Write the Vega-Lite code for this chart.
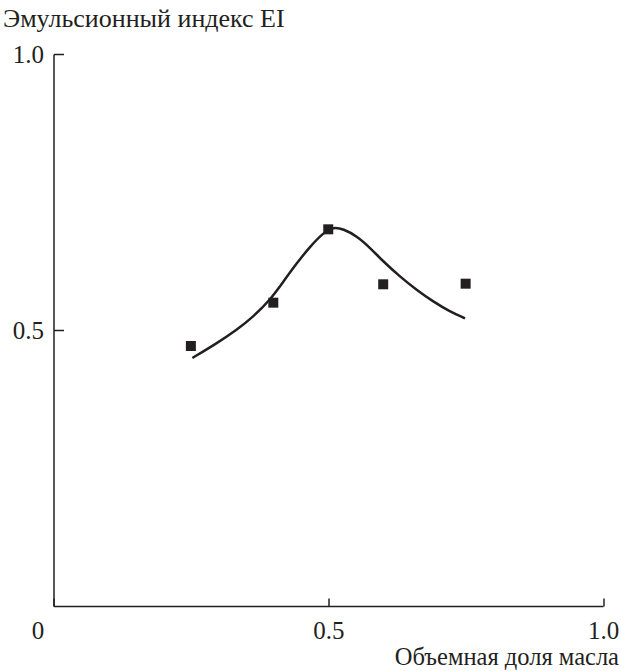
{
  "$schema": "https://vega.github.io/schema/vega-lite/v6.json",
  "width": 549.5,
  "height": 552,
  "autosize": "none",
  "padding": {"left": 53.5, "top": 54, "right": 18, "bottom": 65},
  "background": "white",
  "config": {
    "view": {"stroke": null},
    "axis": {
      "grid": false,
      "domainColor": "#231f20",
      "domainWidth": 1.5,
      "tickColor": "#231f20",
      "tickWidth": 1.5,
      "labelFont": "Liberation Serif, DejaVu Serif, serif",
      "labelFontSize": 25,
      "labelColor": "#231f20",
      "titleFont": "Liberation Serif, DejaVu Serif, serif",
      "titleFontSize": 24.5,
      "titleFontWeight": "normal",
      "titleColor": "#231f20"
    }
  },
  "datasets": {
    "pts": [
      {"x": 0.25, "y": 0.471},
      {"x": 0.40, "y": 0.5495},
      {"x": 0.50, "y": 0.6824},
      {"x": 0.60, "y": 0.5828},
      {"x": 0.75, "y": 0.5839}
    ],
    "curve": [
      {"x": 0.2527, "y": 0.4493},
      {"x": 0.2969, "y": 0.4758},
      {"x": 0.3333, "y": 0.5},
      {"x": 0.3637, "y": 0.5242},
      {"x": 0.3940, "y": 0.5543},
      {"x": 0.4183, "y": 0.5876},
      {"x": 0.4425, "y": 0.6208},
      {"x": 0.4668, "y": 0.6510},
      {"x": 0.4910, "y": 0.6760},
      {"x": 0.5092, "y": 0.6870},
      {"x": 0.5274, "y": 0.6830},
      {"x": 0.5517, "y": 0.6703},
      {"x": 0.5760, "y": 0.6490},
      {"x": 0.6002, "y": 0.6240},
      {"x": 0.6306, "y": 0.5966},
      {"x": 0.6609, "y": 0.5725},
      {"x": 0.6912, "y": 0.5513},
      {"x": 0.7216, "y": 0.5332},
      {"x": 0.7489, "y": 0.5211}
    ]
  },
  "layer": [
    {
      "data": {"name": "curve"},
      "mark": {"type": "line", "interpolate": "basis", "color": "#231f20", "strokeWidth": 2.5},
      "encoding": {
        "x": {
          "field": "x", "type": "quantitative",
          "scale": {"domain": [0, 1], "nice": false, "zero": false},
          "axis": {
            "values": [0, 0.5, 1],
            "tickSize": -8,
            "labelPadding": 20,
            "labelExpr": "datum.value == 0 ? '0' : format(datum.value, '.1f')",
            "labelOffset": {"condition": {"test": "datum.value == 0", "value": -16}, "value": 0},
            "labelFlush": false,
            "title": "Объемная доля масла",
            "titleAlign": "right",
            "titleAnchor": null,
            "titleX": 565,
            "titleY": 58,
            "titleBaseline": "alphabetic"
          }
        },
        "y": {
          "field": "y", "type": "quantitative",
          "scale": {"domain": [0, 1], "nice": false, "zero": false},
          "axis": {
            "values": [0.5, 1],
            "tickSize": -10,
            "labelPadding": 20,
            "format": ".1f",
            "labelFlush": false,
            "title": "Эмульсионный индекс EI",
            "titleFontSize": 26,
            "titleAngle": 0,
            "titleAlign": "left",
            "titleAnchor": null,
            "titleX": -51,
            "titleY": -28,
            "titleBaseline": "alphabetic"
          }
        }
      }
    },
    {
      "data": {"name": "pts"},
      "mark": {"type": "point", "shape": "square", "filled": true, "color": "#231f20", "size": 100, "opacity": 1},
      "encoding": {
        "x": {"field": "x", "type": "quantitative"},
        "y": {"field": "y", "type": "quantitative"}
      }
    }
  ]
}
